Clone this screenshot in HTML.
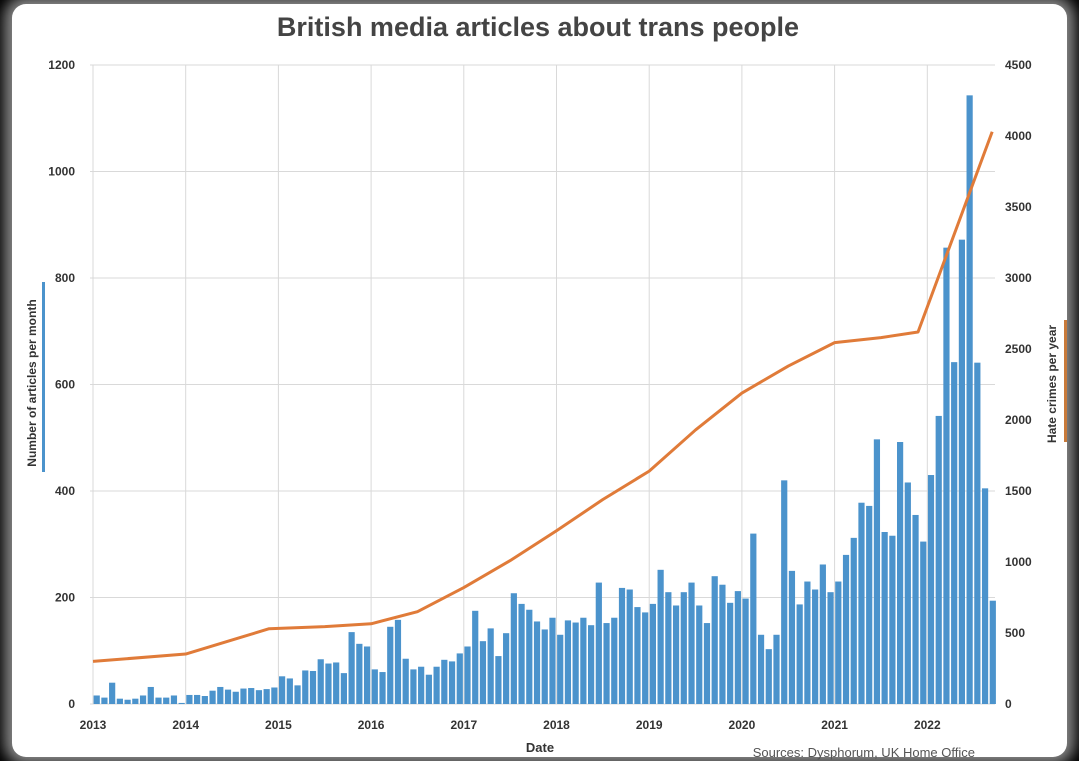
<!DOCTYPE html>
<html><head><meta charset="utf-8"><style>
body{margin:0;background:#000;width:1079px;height:761px;overflow:hidden;font-family:"Liberation Sans",sans-serif}
#card{position:absolute;left:12px;top:4px;width:1055px;height:753px;background:#fff;border-radius:14px;box-shadow:0 0 14px 8px #fff8}
svg{position:absolute;left:0;top:0}
</style></head><body>
<div id="card"></div>
<svg id="chart" width="1079" height="761"></svg>
<script>
const years=[2013,2014,2015,2016,2017,2018,2019,2020,2021,2022];
const leftTicks=[0,200,400,600,800,1000,1200];
const rightTicks=[0,500,1000,1500,2000,2500,3000,3500,4000,4500];
const articles=[16,12,40,10,8,10,16,32,12,12,16,2,
17,17,15,25,32,27,23,29,30,26,28,31,
52,48,35,63,62,84,76,78,58,135,113,108,
65,60,145,158,85,65,70,55,70,83,80,95,
108,175,118,142,90,133,208,188,177,155,140,162,
130,157,153,162,148,228,152,162,218,215,182,172,
188,252,210,185,210,228,185,152,240,224,190,212,
198,320,130,103,130,420,250,187,230,215,262,210,
230,280,312,378,372,497,323,316,492,416,355,305,
430,541,857,642,872,1143,641,405,194];
const lineDates=[2013,2014,2014.9,2015.5,2016,2016.5,2017,2017.5,2018,2018.5,2019,2019.5,2020,2020.5,2021,2021.5,2021.9,2022.7];
const lineVals=[300,352,530,545,565,650,820,1010,1220,1440,1640,1930,2190,2380,2545,2580,2620,4030];
const NS="http://www.w3.org/2000/svg",svg=document.getElementById('chart');
const X0=93,PY=92.7,YB=704,YT=65;
const xd=d=>X0+(d-2013)*PY;
const yl=v=>YB-(v/1200)*(YB-YT);
const yr=v=>YB-(v/4500)*(YB-YT);
function mk(t,a,txt){const e=document.createElementNS(NS,t);for(const k in a)e.setAttribute(k,a[k]);if(txt!=null)e.textContent=txt;svg.appendChild(e);return e;}
let e=mk('text',{x:538,y:36,'text-anchor':'middle','font-size':27,'font-weight':'bold',fill:'#444'},'British media articles about trans people');

leftTicks.forEach(v=>{
 e=mk('line',{x1:90,x2:995,y1:yl(v),y2:yl(v),stroke:'#d9d9d9','stroke-width':1});
 
 e=mk('text',{x:75,y:yl(v)+4,'text-anchor':'end','font-size':12,'font-weight':'bold',fill:'#333'},v);
 
});
rightTicks.forEach(v=>{
 e=mk('text',{x:1005,y:yr(v)+4,'font-size':12,'font-weight':'bold',fill:'#333'},v);
 
});
years.forEach(y=>{
 e=mk('line',{x1:xd(y),x2:xd(y),y1:YT,y2:YB,stroke:'#d9d9d9','stroke-width':1});
 
 e=mk('text',{x:xd(y),y:729,'text-anchor':'middle','font-size':12,'font-weight':'bold',fill:'#333'},y);
 
});
articles.forEach((v,i)=>{
 const x=xd(2013+i/12);
 e=mk('rect',{x:x+0.6,y:yl(v),width:6.2,height:yl(0)-yl(v),fill:'#4b93cc'});
 
});
e=mk('polyline',{points:lineDates.map((d,i)=>xd(d)+','+yr(lineVals[i])).join(' '),fill:'none',stroke:'#e07b39','stroke-width':3,'stroke-linejoin':'round'});

e=mk('text',{x:540,y:752,'text-anchor':'middle','font-size':13,'font-weight':'bold',fill:'#333'},'Date');

e=mk('text',{x:975,y:757,'text-anchor':'end','font-size':13,fill:'#555'},'Sources: Dysphorum,  UK Home Office');

e=mk('text',{x:0,y:0,transform:'translate(36,383) rotate(-90)','text-anchor':'middle','font-size':12,'font-weight':'bold',fill:'#333'},'Number of articles per month');

e=mk('rect',{x:42,y:282,width:3,height:190,fill:'#4b93cc'});

e=mk('text',{x:0,y:0,transform:'translate(1056,384) rotate(-90)','text-anchor':'middle','font-size':12,'font-weight':'bold',fill:'#333'},'Hate crimes per year');

e=mk('rect',{x:1064,y:320,width:3,height:122,fill:'#c87a3a'});

</script>
</body></html>
